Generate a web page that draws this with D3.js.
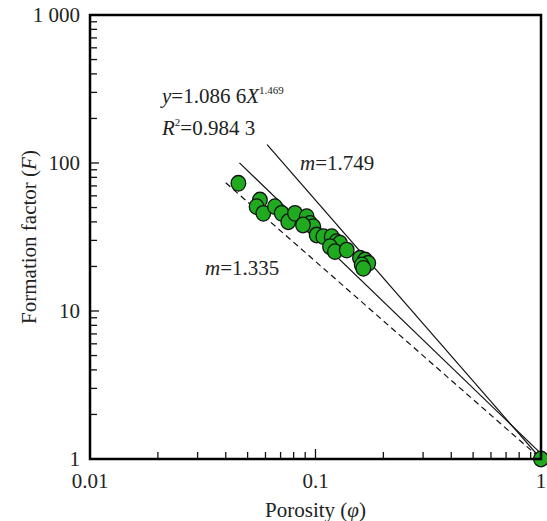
<!DOCTYPE html>
<html>
<head>
<meta charset="utf-8">
<script src="https://cdn.jsdelivr.net/npm/d3@7"></script>
<style>
  body { margin: 0; background: #fff; }
</style>
</head>
<body>
<div id="chart"></div>
<script>
// porosity / formation factor samples
var porosity = [0.0455, 0.0567, 0.0548, 0.0587, 0.0661, 0.0708, 0.0757, 0.0811, 0.0914, 0.0946,
                0.0978, 0.0880, 0.1012, 0.1083, 0.118, 0.124, 0.1284, 0.116, 0.122, 0.1375,
                0.1575, 0.1658, 0.1714, 0.1603, 0.163, 1];
var formationFactor = [72.9, 56.2, 50.7, 45.7, 50.7, 45.7, 40.1, 45.7, 43.4, 39.1,
                       37.1, 38.1, 32.6, 31.8, 31.8, 29.4, 28.7, 27.2, 25.2, 25.8,
                       22.7, 22.1, 21.0, 20.5, 19.4, 1];

// lines F = a * phi^-m, drawn from phiStart to 1
var lineNames = ["m=1.749", "fit", "m=1.335"];
var lineA = [1, 1.0866, 1];
var lineM = [1.749, 1.469, 1.335];
var lineStart = [0.061, 0.046, 0.040];
var lineDash = [false, false, true];

var xTicks = [0.01, 0.1, 1];
var xTickLabels = ["0.01", "0.1", "1"];
var yTicks = [1, 10, 100, 1000];
var yTickLabels = ["1", "10", "100", "1 000"];

var width = 547, height = 521;
var margin = { top: 15, right: 6, bottom: 62, left: 90 };
var innerW = width - margin.left - margin.right;
var innerH = height - margin.top - margin.bottom;

var svg = d3.select("#chart").append("svg")
    .attr("width", width)
    .attr("height", height)
    .attr("font-family", "'Times New Roman', 'Liberation Serif', Times, serif")
    .attr("fill", "#222");

var g = svg.append("g")
    .attr("transform", "translate(" + margin.left + "," + margin.top + ")");

var x = d3.scaleLog().domain([0.01, 1]).range([0, innerW]);
var y = d3.scaleLog().domain([1, 1000]).range([innerH, 0]);

// minor ticks
var xMinor = [];
var yMinor = [];
[0.01, 0.1].forEach(function(b) {
  for (var k = 2; k <= 9; k++) xMinor.push(b * k);
});
[1, 10, 100].forEach(function(b) {
  for (var k = 2; k <= 9; k++) yMinor.push(b * k);
});

var ticks = g.append("g").attr("stroke", "#111").attr("stroke-width", 1.3);
ticks.selectAll(".xmaj").data(xTicks).enter().append("line")
  .attr("x1", function(d) { return x(d); }).attr("x2", function(d) { return x(d); })
  .attr("y1", innerH).attr("y2", innerH - 10);
ticks.selectAll(".xmin").data(xMinor).enter().append("line")
  .attr("x1", function(d) { return x(d); }).attr("x2", function(d) { return x(d); })
  .attr("y1", innerH).attr("y2", innerH - 7);
ticks.selectAll(".ymaj").data(yTicks).enter().append("line")
  .attr("y1", function(d) { return y(d); }).attr("y2", function(d) { return y(d); })
  .attr("x1", 0).attr("x2", 9);
ticks.selectAll(".ymin").data(yMinor).enter().append("line")
  .attr("y1", function(d) { return y(d); }).attr("y2", function(d) { return y(d); })
  .attr("x1", 0).attr("x2", 7);

// tick labels
g.selectAll(".xl").data(xTicks).enter().append("text")
  .attr("x", function(d) { return x(d); })
  .attr("y", innerH + 29)
  .attr("text-anchor", "middle")
  .style("font-size", "21px")
  .text(function(d, i) { return xTickLabels[i]; });

g.selectAll(".yl").data(yTicks).enter().append("text")
  .attr("x", -10)
  .attr("y", function(d) { return y(d); })
  .attr("dy", "0.33em")
  .attr("text-anchor", "end")
  .style("font-size", "21px")
  .text(function(d, i) { return yTickLabels[i]; });

// fitted / reference lines
var lineGen = d3.line()
  .x(function(d) { return x(d[0]); })
  .y(function(d) { return y(d[1]); });

lineNames.forEach(function(name, i) {
  var pts = [lineStart[i], 1].map(function(p) {
    return [p, lineA[i] * Math.pow(p, -lineM[i])];
  });
  g.append("path")
    .attr("d", lineGen(pts))
    .attr("fill", "none")
    .attr("stroke", "#111")
    .attr("stroke-width", 1.2)
    .attr("stroke-dasharray", lineDash[i] ? "6,4" : null);
});

// points
g.selectAll(".pt").data(porosity).enter().append("ellipse")
  .attr("cx", function(d) { return x(d); })
  .attr("cy", function(d, i) { return y(formationFactor[i]); })
  .attr("rx", 7.3)
  .attr("ry", 7.8)
  .attr("fill", "#1faa1f")
  .attr("stroke", "#111")
  .attr("stroke-width", 1.3);

// frame
g.append("rect")
  .attr("width", innerW).attr("height", innerH)
  .attr("fill", "none")
  .attr("stroke", "#000")
  .attr("stroke-width", 2.5);

// annotations
var eq = g.append("text").attr("x", 72).attr("y", 88).style("font-size", "21px");
eq.append("tspan").style("font-style", "italic").text("y");
eq.append("tspan").text("=1.086 6");
eq.append("tspan").style("font-style", "italic").text("X");
eq.append("tspan").attr("dy", -9).style("font-size", "11px").text("1.469");

var r2 = g.append("text").attr("x", 72).attr("y", 120).style("font-size", "21px");
r2.append("tspan").style("font-style", "italic").text("R");
r2.append("tspan").attr("dy", -9).style("font-size", "11px").text("2");
r2.append("tspan").attr("dy", 9).text("=0.984 3");

var m1 = g.append("text").attr("x", 210).attr("y", 155).style("font-size", "21px");
m1.append("tspan").style("font-style", "italic").text("m");
m1.append("tspan").text("=1.749");

var m2 = g.append("text").attr("x", 115).attr("y", 260).style("font-size", "21px");
m2.append("tspan").style("font-style", "italic").text("m");
m2.append("tspan").text("=1.335");

// axis titles
var xt = svg.append("text")
  .attr("x", margin.left + innerW / 2)
  .attr("y", 517)
  .attr("text-anchor", "middle")
  .style("font-size", "21px");
xt.append("tspan").text("Porosity (");
xt.append("tspan").style("font-style", "italic").text("φ");
xt.append("tspan").text(")");

var yt = svg.append("text")
  .attr("transform", "translate(36," + (margin.top + innerH / 2) + ") rotate(-90)")
  .attr("text-anchor", "middle")
  .style("font-size", "21px");
yt.append("tspan").text("Formation factor (");
yt.append("tspan").style("font-style", "italic").text("F");
yt.append("tspan").text(")");
</script>
</body>
</html>
